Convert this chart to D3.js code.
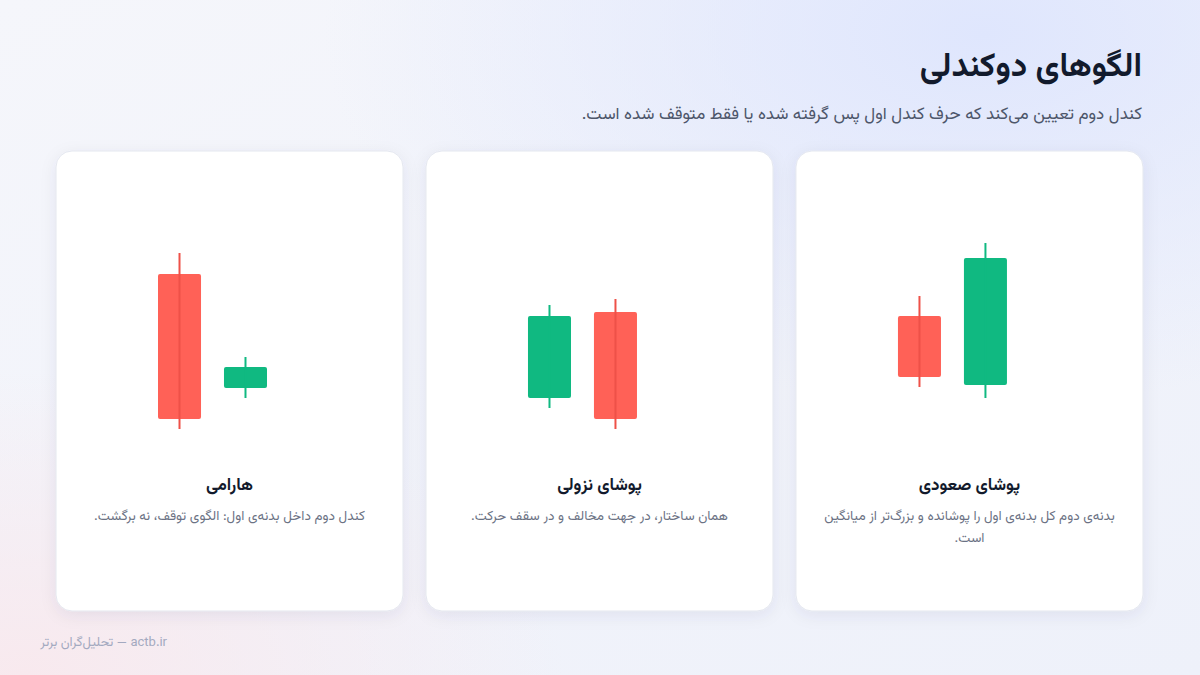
<!DOCTYPE html>
<html lang="fa">
<head>
<meta charset="utf-8">
<script src="https://cdn.jsdelivr.net/npm/d3@7"></script>
<style>
  html, body { margin: 0; padding: 0; width: 1200px; height: 675px; overflow: hidden; }
  svg { display: block; font-family: Vazirmatn, "Noto Sans Arabic", "DejaVu Sans", sans-serif; }
</style>
</head>
<body>
<svg id="chart" width="1200" height="675"></svg>
<script>
// ---- data ----
const title = "الگوهای دوکندلی";
const subtitle = "کندل دوم تعیین می‌کند که حرف کندل اول پس گرفته شده یا فقط متوقف شده است.";
const footer = "actb.ir — تحلیل‌گران برتر";

// cards in reading order (right to left)
const patternNames = ["پوشای صعودی", "پوشای نزولی", "هارامی"];
const patternDescriptions = [
  ["بدنه‌ی دوم کل بدنه‌ی اول را پوشانده و بزرگ‌تر از میانگین", "است."],
  ["همان ساختار، در جهت مخالف و در سقف حرکت."],
  ["کندل دوم داخل بدنه‌ی اول: الگوی توقف، نه برگشت."]
];
// candles: [open, high, low, close] for candle 1 and candle 2 of each pattern
const candleSlots = ["first", "second"];
const bullishEngulfing = [[62, 72, 26.5, 31.5], [27.5, 98.5, 21, 91]];
const bearishEngulfing = [[21, 67.5, 16, 62], [64, 70.5, 5.5, 10.5]];
const harami = [[83, 93.5, 5.5, 10.5], [26, 41.5, 21, 36.5]];
const patternCandles = [bullishEngulfing, bearishEngulfing, harami];

// ---- styles ----
const UP = "#10b981", DOWN = "#ff6157", DOWN_WICK = "#ee5148";
const INK = "#121a2c", MUTED = "#4d566a", SOFT = "#6b7284";

const svg = d3.select("#chart");
const defs = svg.append("defs");

// background
const bg = defs.append("linearGradient").attr("id", "bg").attr("x1", 0).attr("y1", 0).attr("x2", 1).attr("y2", 1);
bg.append("stop").attr("offset", "0%").attr("stop-color", "#f5f6fb");
bg.append("stop").attr("offset", "100%").attr("stop-color", "#eef1fa");
const blue = defs.append("radialGradient").attr("id", "blue").attr("cx", 0.82).attr("cy", 0.05).attr("r", 0.55);
blue.append("stop").attr("offset", "0%").attr("stop-color", "#dfe6fd").attr("stop-opacity", 1);
blue.append("stop").attr("offset", "100%").attr("stop-color", "#dfe6fd").attr("stop-opacity", 0);
const pink = defs.append("radialGradient").attr("id", "pink").attr("cx", 0.02).attr("cy", 1).attr("r", 0.45);
pink.append("stop").attr("offset", "0%").attr("stop-color", "#f8e9ee").attr("stop-opacity", 1);
pink.append("stop").attr("offset", "100%").attr("stop-color", "#f8e9ee").attr("stop-opacity", 0);

const shadow = defs.append("filter").attr("id", "shadow").attr("x", "-20%").attr("y", "-20%").attr("width", "140%").attr("height", "140%");
shadow.append("feDropShadow").attr("dx", 0).attr("dy", 4).attr("stdDeviation", 8)
  .attr("flood-color", "#1e2a55").attr("flood-opacity", 0.07);

svg.append("rect").attr("width", 1200).attr("height", 675).attr("fill", "url(#bg)");
svg.append("rect").attr("width", 1200).attr("height", 675).attr("fill", "url(#blue)");
svg.append("rect").attr("width", 1200).attr("height", 675).attr("fill", "url(#pink)");

// header
svg.append("text").attr("x", 1142).attr("y", 76).attr("direction", "rtl").attr("text-anchor", "start")
  .attr("font-size", 33).attr("font-weight", 700).attr("fill", INK).text(title);
svg.append("text").attr("x", 1142).attr("y", 119).attr("direction", "rtl").attr("text-anchor", "start")
  .attr("font-size", 17).attr("fill", MUTED).text(subtitle);

// card layout scale (RTL: first card on right)
const cardScale = d3.scaleBand().domain(d3.range(patternNames.length))
  .range([1143, 56]).paddingInner(0.062).paddingOuter(0);
const cardW = cardScale.bandwidth();
const cardTop = 151, cardH = 460;

// candle scales (local to card)
const xC = d3.scaleBand().domain(candleSlots).range([102, 211]).paddingInner(0.348).paddingOuter(0);
const yC = d3.scaleLinear().domain([0, 100]).range([440 - cardTop, 240 - cardTop]);

patternNames.forEach((name, i) => {
  const x0 = cardScale(i);
  const g = svg.append("g").attr("transform", `translate(${x0},${cardTop})`);
  g.append("rect").attr("x", 0).attr("y", 0).attr("width", cardW).attr("height", cardH)
    .attr("rx", 16).attr("fill", "#ffffff").attr("stroke", "#e4e7ef").attr("stroke-width", 1)
    .attr("filter", "url(#shadow)");

  const candles = patternCandles[i].map((c, k) => ({ slot: candleSlots[k], o: c[0], h: c[1], l: c[2], c: c[3] }));
  const cg = g.selectAll("g.candle").data(candles).join("g").attr("class", "candle");
  const col = d => d.c >= d.o ? UP : DOWN;
  cg.append("rect")
    .attr("x", d => xC(d.slot)).attr("width", xC.bandwidth())
    .attr("y", d => yC(Math.max(d.o, d.c))).attr("height", d => yC(Math.min(d.o, d.c)) - yC(Math.max(d.o, d.c)))
    .attr("rx", 2).attr("fill", col);
  cg.append("line")
    .attr("x1", d => xC(d.slot) + xC.bandwidth() / 2).attr("x2", d => xC(d.slot) + xC.bandwidth() / 2)
    .attr("y1", d => yC(d.h)).attr("y2", d => yC(d.l))
    .attr("stroke", d => d.c >= d.o ? UP : DOWN_WICK).attr("stroke-width", 2);

  g.append("text").attr("x", cardW / 2).attr("y", 339).attr("direction", "rtl").attr("text-anchor", "middle")
    .attr("font-size", 17).attr("font-weight", 700).attr("fill", INK).text(name);
  patternDescriptions[i].forEach((line, j) => {
    g.append("text").attr("x", cardW / 2).attr("y", 369 + j * 22).attr("direction", "rtl").attr("text-anchor", "middle")
      .attr("font-size", 13.5).attr("fill", SOFT).text(line);
  });
});

// footer
svg.append("text").attr("x", 167).attr("y", 646).attr("direction", "rtl").attr("text-anchor", "start")
  .attr("font-size", 13).attr("fill", "#a3a9c0").text(footer);
</script>
</body>
</html>
